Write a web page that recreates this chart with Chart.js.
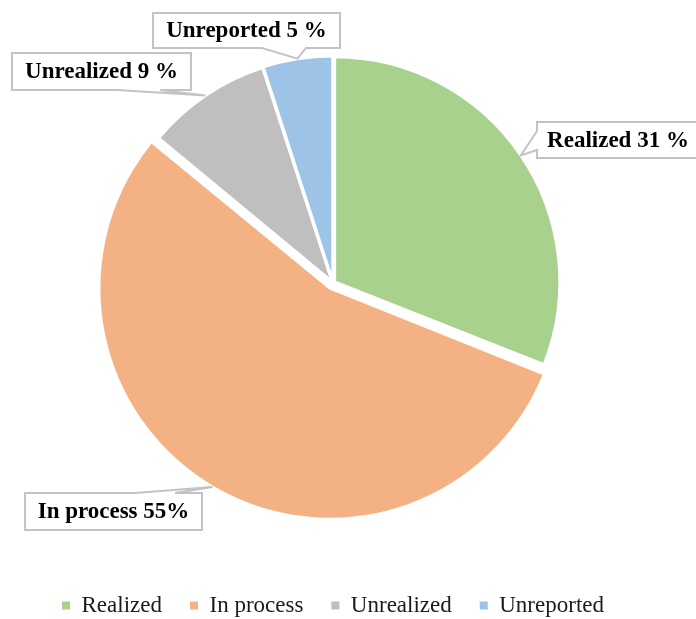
<!DOCTYPE html>
<html>
<head>
<meta charset="utf-8">
<script src="https://cdn.jsdelivr.net/npm/chart.js@4.4.1/dist/chart.umd.min.js"></script>
<style>
  html, body { margin: 0; padding: 0; background: #fff; overflow: hidden; }
  #wrap { width: 696px; height: 619px; overflow: hidden; }
</style>
</head>
<body>
<div id="wrap"><canvas id="statusPie" width="696" height="627"></canvas></div>
<script>
const categories = ['Realized', 'In process', 'Unrealized', 'Unreported'];
const shares = [31, 55, 9, 5];
const pctSeparators = [' ', '', ' ', ' '];
const sliceColors = ['#a9d18e', '#f4b183', '#bfbfbf', '#9dc3e6'];
const sliceOffsets = [8, 24, 5, 5];

// callout boxes, placed by hand like the original
const callouts = [
  { x: 537, y: 122, w: 162, h: 36, side: 'left',   base: [131, 150] },
  { x: 25,  y: 493, w: 177, h: 37, side: 'top',    base: [135, 175] },
  { x: 12,  y: 53,  w: 179, h: 37, side: 'bottom', base: [117, 160] },
  { x: 153, y: 13,  w: 187, h: 35, side: 'bottom', base: [262, 306] }
];

const calloutPlugin = {
  id: 'callouts',
  afterDatasetsDraw(chart) {
    const ctx = chart.ctx;
    const arcs = chart.getDatasetMeta(0).data;
    arcs.forEach((arc, i) => {
      const p = arc.getProps(['x', 'y', 'startAngle', 'endAngle', 'outerRadius', 'circumference'], true);
      const mid = (p.startAngle + p.endAngle) / 2;
      const off = sliceOffsets[i] / 4;
      const fix = 1 - Math.sin(Math.min(Math.PI, p.circumference || 0));
      const shift = off * (1 + fix);
      const r = p.outerRadius + shift;
      const tx = p.x + Math.cos(mid) * r;
      const ty = p.y + Math.sin(mid) * r;
      const b = callouts[i];
      const x0 = b.x, y0 = b.y, x1 = b.x + b.w, y1 = b.y + b.h;

      ctx.save();
      ctx.beginPath();
      ctx.moveTo(x0, y0);
      if (b.side === 'top') {
        ctx.lineTo(b.base[0], y0); ctx.lineTo(tx, ty); ctx.lineTo(b.base[1], y0);
      }
      ctx.lineTo(x1, y0);
      ctx.lineTo(x1, y1);
      if (b.side === 'bottom') {
        ctx.lineTo(b.base[1], y1); ctx.lineTo(tx, ty); ctx.lineTo(b.base[0], y1);
      }
      ctx.lineTo(x0, y1);
      if (b.side === 'left') {
        ctx.lineTo(x0, b.base[1]); ctx.lineTo(tx, ty); ctx.lineTo(x0, b.base[0]);
      }
      ctx.closePath();
      ctx.fillStyle = '#ffffff';
      ctx.fill();
      ctx.lineWidth = 2;
      ctx.lineJoin = 'miter';
      ctx.strokeStyle = '#c3c3c3';
      ctx.stroke();

      ctx.fillStyle = '#000000';
      ctx.font = 'bold 23px "Liberation Serif", "Times New Roman", serif';
      ctx.textAlign = 'center';
      ctx.textBaseline = 'middle';
      ctx.fillText(categories[i] + ' ' + shares[i] + pctSeparators[i] + '%', (x0 + x1) / 2, (y0 + y1) / 2 + 1);
      ctx.restore();
    });
  }
};

function baseLegendLabels(chart) {
  const gen = (Chart.overrides.doughnut && Chart.overrides.doughnut.plugins.legend.labels.generateLabels)
    || Chart.overrides.pie.plugins.legend.labels.generateLabels;
  return gen(chart).map(l => Object.assign(l, { lineWidth: 0, strokeStyle: l.fillStyle }));
}

new Chart(document.getElementById('statusPie'), {
  type: 'pie',
  data: {
    labels: categories,
    datasets: [{
      data: shares,
      backgroundColor: sliceColors,
      borderColor: '#ffffff',
      borderWidth: 3,
      offset: sliceOffsets,
    }]
  },
  options: {
    responsive: false,
    animation: false,
    events: [],
    radius: 225,
    layout: { padding: { left: 0, right: 30, top: 0, bottom: 0 } },
    plugins: {
      tooltip: { enabled: false },
      legend: {
        position: 'bottom',
        labels: {
          boxWidth: 8,
          boxHeight: 8,
          padding: 28,
          color: '#1a1a1a',
          font: { family: '"Liberation Serif", "Times New Roman", serif', size: 23 },
          generateLabels: baseLegendLabels
        }
      }
    }
  },
  plugins: [calloutPlugin]
});
</script>
</body>
</html>
